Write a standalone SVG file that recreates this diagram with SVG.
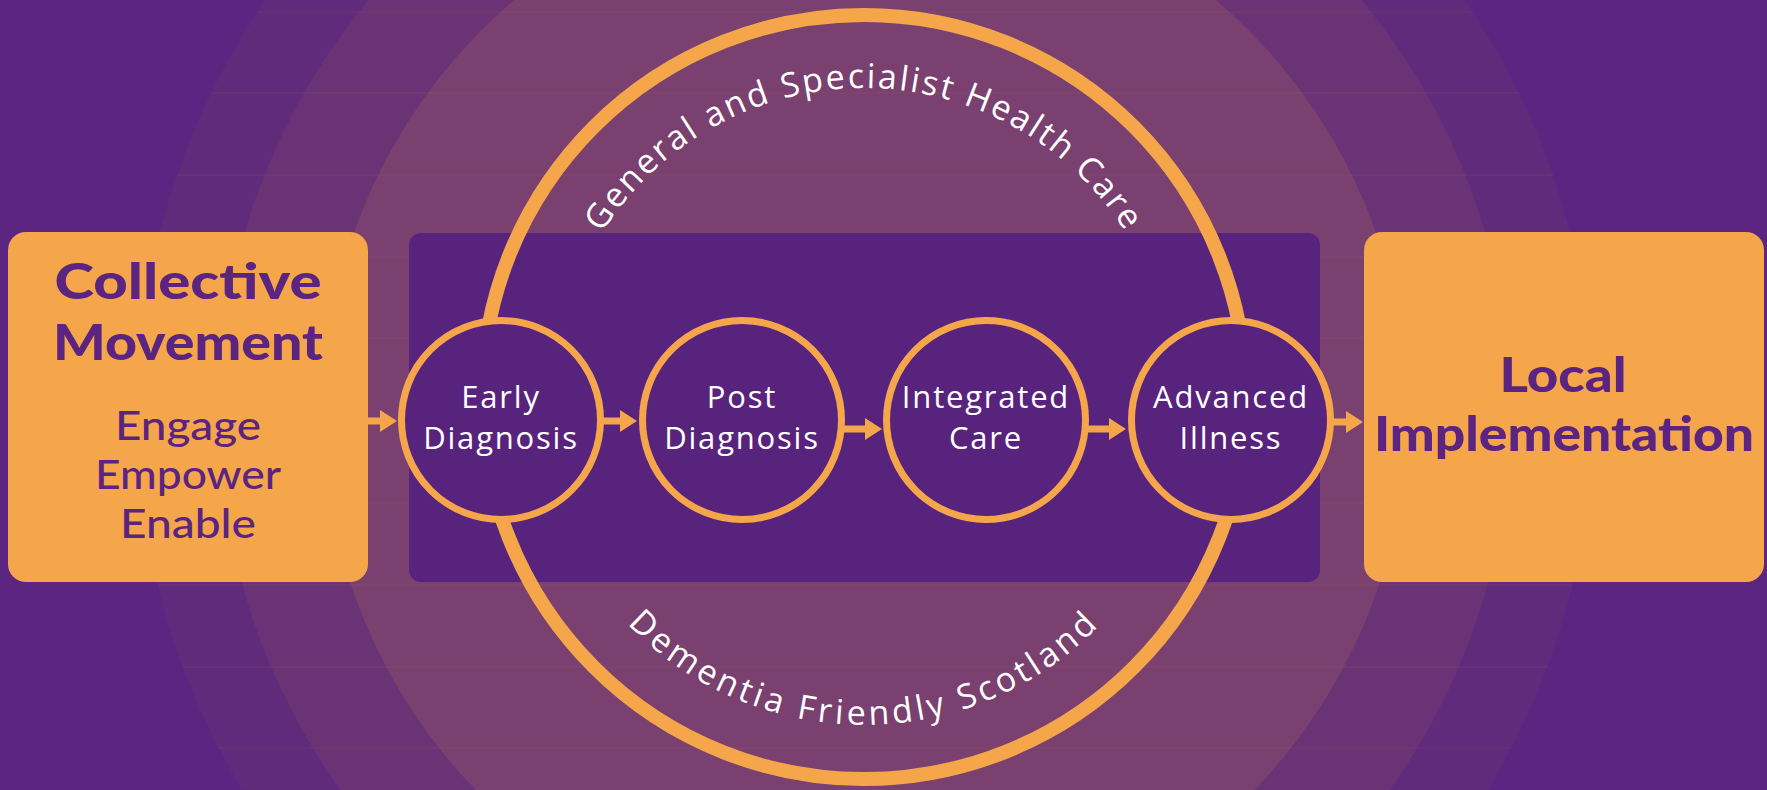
<svg xmlns="http://www.w3.org/2000/svg" width="1767" height="790" viewBox="0 0 1767 790">
  <style>
    .box { fill: #F5A64B; }
    .head { font-family: Lato, "Open Sans", sans-serif; font-weight: 900; fill: #5A2480; text-anchor: middle; }
    .sub { font-family: Lato, "Open Sans", sans-serif; font-weight: 500; font-size: 40px; fill: #5A2480; text-anchor: middle; }
    .stage circle { fill: #58237D; stroke: #F5A64B; stroke-width: 7; }
    .stage text { font-family: "Open Sans", "Noto Sans", sans-serif; font-weight: 500; font-size: 31px; fill: #FFFFFF; text-anchor: middle; letter-spacing: 1.8px; }
    .arc { font-family: "Open Sans", "Noto Sans", sans-serif; font-weight: 500; font-size: 34px; fill: #FFFFFF; }
    .conn line { stroke: #F5A64B; stroke-width: 7; }
  </style>
  <defs>
    <marker id="ah" markerUnits="userSpaceOnUse" markerWidth="18" markerHeight="24" refX="1" refY="12" orient="auto">
      <path d="M0,1 L17,12 L0,23 Z" fill="#F5A64B"/>
    </marker>
    <clipPath id="ringClip"><circle cx="865" cy="413" r="728"/></clipPath>
    <path id="topArc" d="M555,397 A309,309 0 0 1 1173,397"/>
    <path id="botArc" d="M536,397 A328,328 0 0 0 1192,397"/>
  </defs>

  <g id="background">
    <rect x="0" y="0" width="1767" height="790" fill="#5C2581"/>
    <circle cx="865" cy="413" r="728" fill="#612B7C"/>
    <circle cx="865" cy="413" r="646" fill="#693375"/>
    <circle cx="865" cy="413" r="542" fill="#7A406F"/>
    <g clip-path="url(#ringClip)" stroke="#F5A64B" stroke-opacity="0.10" stroke-width="1">
      <line x1="0" y1="12" x2="1767" y2="12"/>
      <line x1="0" y1="93" x2="1767" y2="93"/>
      <line x1="0" y1="175" x2="1767" y2="175"/>
      <line x1="0" y1="257" x2="1767" y2="257"/>
      <line x1="0" y1="338" x2="1767" y2="338"/>
      <line x1="0" y1="503" x2="1767" y2="503"/>
      <line x1="0" y1="585" x2="1767" y2="585"/>
      <line x1="0" y1="667" x2="1767" y2="667"/>
      <line x1="0" y1="748" x2="1767" y2="748"/>
    </g>
  </g>

  <g id="pathway-panel">
    <rect x="409" y="233" width="911" height="349" rx="12" fill="#58237D"/>
  </g>

  <g id="health-care-ring">
    <circle cx="864" cy="397" r="382" fill="none" stroke="#F5A64B" stroke-width="14"/>
    <text class="arc" letter-spacing="2.3"><textPath href="#topArc" startOffset="50%" text-anchor="middle">General and Specialist Health Care</textPath></text>
    <text class="arc" letter-spacing="3.6"><textPath href="#botArc" startOffset="50%" text-anchor="middle">Dementia Friendly Scotland</textPath></text>
  </g>

  <g id="collective-movement">
    <rect class="box" x="8" y="232" width="360" height="350" rx="18"/>
    <text class="head" x="188" y="299" font-size="50" textLength="267" lengthAdjust="spacingAndGlyphs">Collective</text>
    <text class="head" x="188" y="360" font-size="50" textLength="270" lengthAdjust="spacingAndGlyphs">Movement</text>
    <text class="sub" x="188" y="440" textLength="146" lengthAdjust="spacingAndGlyphs">Engage</text>
    <text class="sub" x="188" y="489" textLength="186" lengthAdjust="spacingAndGlyphs">Empower</text>
    <text class="sub" x="188" y="538" textLength="136" lengthAdjust="spacingAndGlyphs">Enable</text>
  </g>

  <g id="local-implementation">
    <rect class="box" x="1364" y="232" width="400" height="350" rx="18"/>
    <text class="head" x="1563" y="392" font-size="47" textLength="127" lengthAdjust="spacingAndGlyphs">Local</text>
    <text class="head" x="1564" y="451" font-size="47" textLength="380" lengthAdjust="spacingAndGlyphs">Implementation</text>
  </g>

  <g id="connectors" class="conn">
    <line x1="368" y1="421" x2="381" y2="421" marker-end="url(#ah)"/>
    <line x1="603" y1="421" x2="621" y2="421" marker-end="url(#ah)"/>
    <line x1="844" y1="429" x2="866" y2="429" marker-end="url(#ah)"/>
    <line x1="1088" y1="429" x2="1110" y2="429" marker-end="url(#ah)"/>
    <line x1="1333" y1="422" x2="1347" y2="422" marker-end="url(#ah)"/>
  </g>

  <g id="early-diagnosis" class="stage">
    <circle cx="501" cy="420" r="99.5"/>
    <text x="501" y="408">Early</text>
    <text x="501" y="449">Diagnosis</text>
  </g>
  <g id="post-diagnosis" class="stage">
    <circle cx="742" cy="420" r="99.5"/>
    <text x="742" y="408">Post</text>
    <text x="742" y="449">Diagnosis</text>
  </g>
  <g id="integrated-care" class="stage">
    <circle cx="986" cy="420" r="99.5"/>
    <text x="986" y="408">Integrated</text>
    <text x="986" y="449">Care</text>
  </g>
  <g id="advanced-illness" class="stage">
    <circle cx="1231" cy="420" r="99.5"/>
    <text x="1231" y="408">Advanced</text>
    <text x="1231" y="449">Illness</text>
  </g>
</svg>
